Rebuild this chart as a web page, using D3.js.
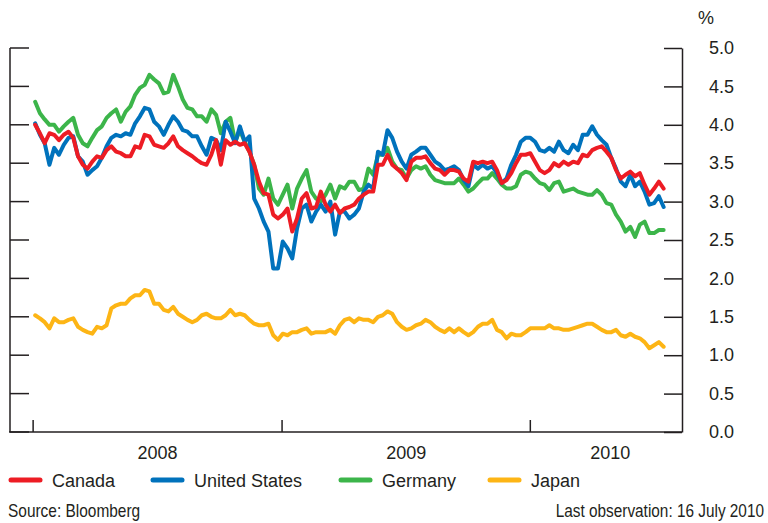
<!DOCTYPE html>
<html>
<head>
<meta charset="utf-8">
<script src="https://cdn.jsdelivr.net/npm/d3@7"></script>
<style>
  body { margin: 0; background: #fff; }
  text { font-family: "Liberation Sans", Arial, sans-serif; fill: #231f20; }
</style>
</head>
<body>
<svg id="chart" width="768" height="523"></svg>
<script>
// weekly readings (Fridays), 4 Jan 2008 to 16 July 2010
const startDate = new Date(2008, 0, 4);
const endDate = new Date(2010, 6, 17);

const canada = [4.00,3.89,3.76,3.89,3.87,3.80,3.87,3.91,3.83,3.59,3.48,3.43,3.52,3.59,3.57,3.67,3.72,3.65,3.63,3.59,
  3.59,3.72,3.70,3.87,3.85,3.74,3.72,3.70,3.76,3.85,3.72,3.67,3.63,3.59,3.54,3.50,3.48,3.61,3.80,3.48,
  3.80,3.74,3.78,3.74,3.76,3.65,3.48,3.26,3.11,3.09,2.83,2.78,2.83,2.91,2.61,2.78,3.04,3.11,2.91,2.93,
  3.13,2.96,2.87,2.96,2.85,2.91,2.93,2.96,3.04,3.09,3.13,3.13,3.48,3.48,3.61,3.48,3.43,3.37,3.28,3.52,
  3.57,3.57,3.59,3.50,3.43,3.41,3.35,3.41,3.41,3.39,3.30,3.26,3.52,3.50,3.52,3.50,3.52,3.41,3.24,3.28,
  3.37,3.50,3.61,3.61,3.63,3.52,3.41,3.37,3.41,3.50,3.46,3.52,3.48,3.52,3.50,3.61,3.59,3.67,3.70,3.72,
  3.65,3.57,3.41,3.30,3.35,3.39,3.33,3.37,3.22,3.09,3.17,3.26,3.17];

const unitedStates = [4.02,3.87,3.76,3.48,3.70,3.61,3.74,3.83,3.85,3.59,3.52,3.35,3.41,3.46,3.57,3.72,3.83,3.87,3.85,3.89,
  3.87,4.02,4.11,4.22,4.20,4.04,3.98,3.87,4.00,4.11,4.04,3.93,3.91,3.85,3.85,3.72,3.61,3.83,3.80,3.67,
  4.04,3.91,3.76,3.98,3.78,3.85,3.04,2.91,2.74,2.61,2.13,2.13,2.48,2.39,2.26,2.65,2.91,2.96,2.74,2.87,
  2.96,2.87,3.00,2.57,2.87,2.87,2.78,2.83,2.91,3.13,3.22,3.17,3.65,3.61,3.93,3.83,3.65,3.52,3.43,3.61,
  3.65,3.70,3.70,3.61,3.52,3.48,3.41,3.43,3.46,3.41,3.28,3.20,3.48,3.43,3.48,3.43,3.46,3.37,3.24,3.30,
  3.48,3.61,3.78,3.83,3.83,3.78,3.67,3.65,3.70,3.65,3.78,3.67,3.63,3.74,3.67,3.87,3.87,3.98,3.87,3.80,
  3.74,3.57,3.43,3.26,3.20,3.35,3.20,3.26,3.13,2.96,2.98,3.07,2.93];

const germany = [4.30,4.15,4.07,4.00,4.00,3.91,3.98,4.04,4.09,3.87,3.76,3.72,3.83,3.93,3.98,4.09,4.15,4.20,4.04,4.17,
  4.24,4.39,4.48,4.52,4.65,4.59,4.54,4.41,4.43,4.65,4.50,4.33,4.22,4.20,4.11,4.11,4.04,4.20,4.13,3.89,
  4.04,4.09,3.78,3.93,3.78,3.65,3.48,3.17,3.09,3.30,3.04,2.96,3.09,3.22,2.91,3.17,3.30,3.41,3.13,3.04,
  3.00,3.09,3.22,3.04,3.20,3.17,3.26,3.26,3.15,3.17,3.43,3.35,3.61,3.61,3.70,3.52,3.43,3.41,3.30,3.41,
  3.46,3.43,3.46,3.35,3.28,3.26,3.24,3.24,3.24,3.30,3.22,3.13,3.17,3.24,3.30,3.30,3.37,3.30,3.22,3.17,
  3.17,3.20,3.35,3.39,3.37,3.30,3.24,3.22,3.15,3.24,3.26,3.13,3.15,3.17,3.13,3.11,3.09,3.09,3.15,3.09,
  2.98,2.96,2.83,2.74,2.61,2.67,2.54,2.70,2.74,2.59,2.59,2.63,2.63];

const japan = [1.52,1.48,1.43,1.35,1.48,1.43,1.43,1.46,1.48,1.37,1.33,1.30,1.28,1.37,1.35,1.39,1.61,1.65,1.67,1.67,
  1.74,1.78,1.78,1.85,1.83,1.67,1.67,1.59,1.57,1.63,1.54,1.50,1.46,1.43,1.46,1.52,1.54,1.50,1.48,1.48,
  1.52,1.59,1.52,1.54,1.52,1.46,1.41,1.39,1.39,1.41,1.26,1.20,1.28,1.26,1.30,1.30,1.33,1.35,1.28,1.30,
  1.30,1.30,1.33,1.28,1.39,1.46,1.48,1.43,1.48,1.46,1.46,1.43,1.50,1.52,1.57,1.54,1.43,1.37,1.33,1.35,
  1.39,1.41,1.46,1.43,1.37,1.33,1.30,1.35,1.30,1.35,1.30,1.26,1.30,1.37,1.41,1.41,1.46,1.33,1.30,1.22,
  1.28,1.26,1.26,1.30,1.35,1.35,1.35,1.35,1.39,1.35,1.35,1.33,1.33,1.35,1.37,1.39,1.41,1.41,1.37,1.33,
  1.30,1.30,1.33,1.26,1.24,1.28,1.24,1.22,1.17,1.09,1.13,1.17,1.11];

const seriesNames = ["Canada", "United States", "Germany", "Japan"];
const seriesColors = ["#ed1c24", "#0072bc", "#3cb54a", "#fdb515"];
const yTicks = [0, 0.5, 1, 1.5, 2, 2.5, 3, 3.5, 4, 4.5, 5];
const yearLabels = ["2008", "2009", "2010"];

// one date per reading, every Friday; last one is 16 July
const dates = d3.timeFriday.range(startDate, endDate);
const allSeries = [canada, unitedStates, germany, japan];

const svg = d3.select("#chart");
const plotLeft = 10, plotRight = 682, plotTop = 48, plotBottom = 432;

const x = d3.scaleTime()
  .domain([new Date(2007, 10, 28), new Date(2010, 7, 12)])
  .range([plotLeft, plotRight]);
const y = d3.scaleLinear().domain([0, 5]).range([plotBottom, plotTop]);

const ink = "#231f20";

// frame: left line + bottom line
svg.append("line").attr("x1", plotLeft).attr("x2", plotLeft).attr("y1", plotTop).attr("y2", plotBottom)
  .attr("stroke", ink).attr("stroke-width", 1.5);
svg.append("line").attr("x1", plotLeft - 1).attr("x2", plotRight).attr("y1", plotBottom).attr("y2", plotBottom)
  .attr("stroke", ink).attr("stroke-width", 1.5);

// left inward ticks
svg.append("g").selectAll("line").data(yTicks).enter().append("line")
  .attr("x1", plotLeft).attr("x2", plotLeft + 19)
  .attr("y1", d => y(d)).attr("y2", d => y(d))
  .attr("stroke", ink).attr("stroke-width", 1.5);

// right axis
const yAxis = d3.axisRight(y).tickValues(yTicks).tickFormat(d3.format(".1f"))
  .tickSizeInner(-18).tickSizeOuter(0).tickPadding(27);
const gy = svg.append("g").attr("transform", `translate(${plotRight},0)`).call(yAxis);
gy.select(".domain").attr("stroke", ink).attr("stroke-width", 1.5);
gy.selectAll(".tick line").attr("stroke", ink).attr("stroke-width", 1.5);
gy.selectAll(".tick text").attr("font-size", 18).attr("fill", ink)
  .style("font-family", "'Liberation Sans', Arial, sans-serif");

svg.append("text").attr("x", 706).attr("y", 24).attr("text-anchor", "middle")
  .attr("font-size", 18).text("%");

// x ticks at year starts
const yearStarts = [new Date(2008, 0, 1), new Date(2009, 0, 1), new Date(2010, 0, 1)];
svg.append("g").selectAll("line").data(yearStarts).enter().append("line")
  .attr("x1", d => x(d)).attr("x2", d => x(d))
  .attr("y1", plotBottom).attr("y2", plotBottom - 12)
  .attr("stroke", ink).attr("stroke-width", 1.5);

const labelPos = [
  (x(yearStarts[0]) + x(yearStarts[1])) / 2,
  (x(yearStarts[1]) + x(yearStarts[2])) / 2,
  (x(yearStarts[2]) + plotRight) / 2 + 4
];
svg.append("g").selectAll("text").data(yearLabels).enter().append("text")
  .attr("x", (d, i) => labelPos[i]).attr("y", 459)
  .attr("text-anchor", "middle").attr("font-size", 18).text(d => d);

// lines
const line = d3.line()
  .x((d, i) => x(dates[i]))
  .y(d => y(d));

// draw Japan first, then Germany, US, Canada on top
const order = [3, 2, 1, 0];
order.forEach(k => {
  svg.append("path")
    .datum(allSeries[k])
    .attr("d", line)
    .attr("fill", "none")
    .attr("stroke", seriesColors[k])
    .attr("stroke-width", 4)
    .attr("stroke-linejoin", "round")
    .attr("stroke-linecap", "round");
});

// legend
const swatchX = [11, 153, 341, 490];
const legend = svg.append("g");
seriesNames.forEach((name, i) => {
  legend.append("line")
    .attr("x1", swatchX[i]).attr("x2", swatchX[i] + 29)
    .attr("y1", 480).attr("y2", 480)
    .attr("stroke", seriesColors[i]).attr("stroke-width", 5)
    .attr("stroke-linecap", "round");
  legend.append("text")
    .attr("x", swatchX[i] + 41).attr("y", 487)
    .attr("font-size", 18).text(name);
});

// notes (condensed type in the original, squeezed horizontally)
svg.append("text").attr("transform", "translate(8,517) scale(0.835,1)")
  .attr("font-size", 18.5).text("Source: Bloomberg");
svg.append("text").attr("transform", "translate(764,517) scale(0.83,1)")
  .attr("text-anchor", "end").attr("font-size", 18.5).text("Last observation: 16 July 2010");
</script>
</body>
</html>
